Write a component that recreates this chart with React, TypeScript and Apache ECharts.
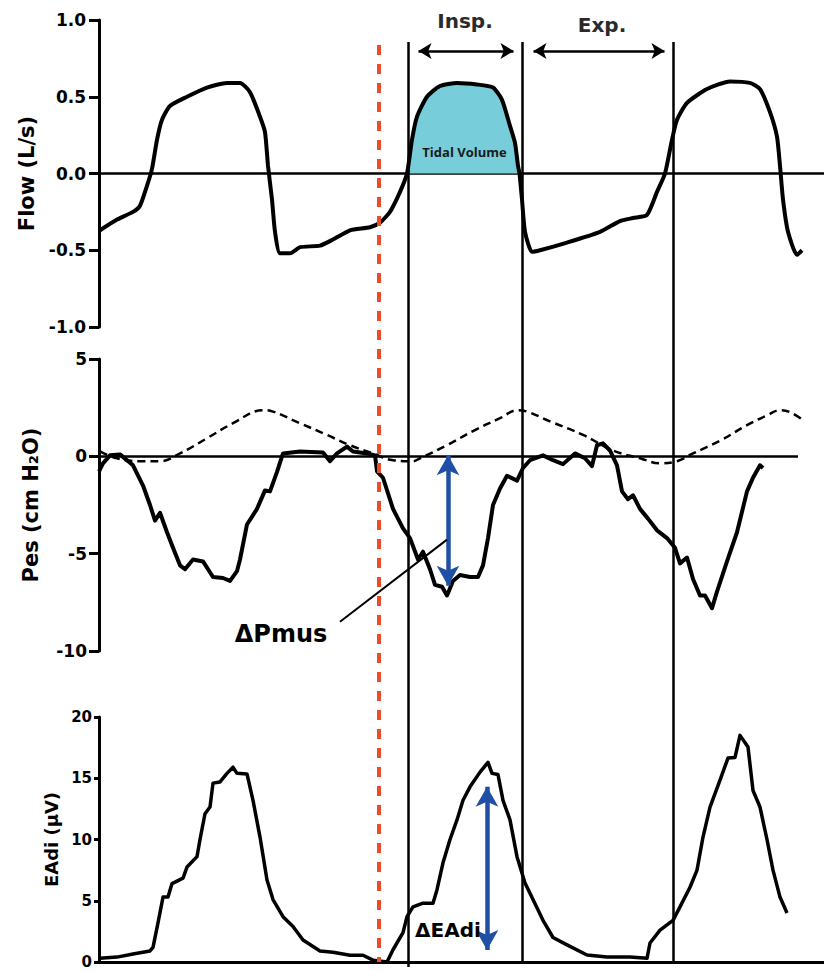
import React, { useEffect, useRef } from "react";
import * as echarts from "echarts";

// time in seconds, value
const flowData: [number, number][] = [
  [0.01, -0.37], [0.18, -0.3], [0.34, -0.25], [0.41, -0.21], [0.48, -0.08], [0.53, 0.03], [0.58, 0.22],
  [0.63, 0.35], [0.71, 0.44], [0.88, 0.5], [1.08, 0.56], [1.28, 0.59], [1.41, 0.59], [1.51, 0.53],
  [1.61, 0.37], [1.66, 0.27], [1.69, 0.05], [1.73, -0.17], [1.76, -0.38], [1.81, -0.52], [1.91, -0.52],
  [2.01, -0.48], [2.21, -0.47], [2.34, -0.43], [2.51, -0.37], [2.71, -0.35], [2.81, -0.32], [2.91, -0.25],
  [3.01, -0.12], [3.08, 0.0], [3.13, 0.22], [3.18, 0.37], [3.28, 0.5], [3.41, 0.57], [3.58, 0.59],
  [3.78, 0.58], [3.94, 0.56], [4.03, 0.48], [4.11, 0.31], [4.16, 0.2], [4.19, 0.05], [4.205, 0.0],
  [4.23, -0.17], [4.26, -0.38], [4.33, -0.51], [4.41, -0.5], [4.68, -0.45], [5.01, -0.38], [5.21, -0.31],
  [5.34, -0.29], [5.48, -0.27], [5.58, -0.12], [5.66, 0.0], [5.73, 0.22], [5.78, 0.35], [5.88, 0.46],
  [6.08, 0.55], [6.31, 0.6], [6.51, 0.59], [6.61, 0.55], [6.71, 0.4], [6.78, 0.24], [6.81, 0.05],
  [6.84, -0.17], [6.89, -0.38], [6.98, -0.53], [7.03, -0.5],
];

const pesData: [number, number][] = [
  [0.0, -0.77], [0.04, -0.36], [0.11, 0.05], [0.21, 0.1], [0.34, -0.46], [0.44, -1.5], [0.51, -2.5],
  [0.56, -3.3], [0.61, -2.9], [0.68, -3.9], [0.74, -4.7], [0.81, -5.6], [0.86, -5.8], [0.94, -5.3],
  [1.04, -5.4], [1.14, -6.2], [1.24, -6.25], [1.31, -6.4], [1.38, -5.9], [1.41, -5.3], [1.48, -3.5],
  [1.58, -2.7], [1.66, -1.75], [1.71, -1.8], [1.78, -0.8], [1.84, 0.15], [2.01, 0.25], [2.24, 0.2],
  [2.31, -0.25], [2.38, 0.15], [2.48, 0.5], [2.54, 0.25], [2.68, 0.15], [2.76, 0.05], [2.78, -0.77],
  [2.84, -1.1], [2.94, -2.7], [3.04, -3.7], [3.11, -4.2], [3.19, -5.3], [3.24, -4.9], [3.31, -5.8],
  [3.36, -6.6], [3.43, -6.7], [3.48, -7.15], [3.54, -6.4], [3.61, -6.1], [3.71, -6.2], [3.79, -6.2],
  [3.84, -5.6], [3.89, -4.2], [3.94, -2.5], [4.01, -1.65], [4.08, -1.0], [4.18, -1.25], [4.24, -0.6],
  [4.31, -0.2], [4.44, 0.05], [4.54, -0.2], [4.64, -0.4], [4.76, 0.15], [4.86, -0.1], [4.93, -0.5],
  [4.98, 0.57], [5.04, 0.67], [5.11, 0.3], [5.18, -0.46], [5.23, -1.8], [5.29, -2.2], [5.34, -2.0],
  [5.41, -2.7], [5.49, -3.2], [5.58, -3.8], [5.68, -4.2], [5.76, -4.7], [5.81, -5.5], [5.88, -5.2],
  [5.94, -6.3], [6.01, -7.15], [6.06, -7.15], [6.13, -7.8], [6.18, -6.95], [6.28, -5.4], [6.38, -3.9],
  [6.48, -1.8], [6.54, -1.1], [6.61, -0.46], [6.64, -0.6],
];

const pesRelaxData: [number, number][] = [
  [0.01, 0.25], [0.18, -0.1], [0.41, -0.25], [0.61, -0.25], [0.81, 0.15], [1.08, 0.93], [1.34, 1.7],
  [1.64, 2.37], [1.74, 2.3], [2.01, 1.7], [2.28, 1.1], [2.51, 0.57], [2.74, 0.15], [2.94, -0.2],
  [3.14, -0.25], [3.21, -0.1], [3.48, 0.57], [3.74, 1.3], [4.01, 1.96], [4.19, 2.37], [4.28, 2.3],
  [4.51, 1.8], [4.84, 1.1], [5.14, 0.3], [5.41, -0.1], [5.61, -0.36], [5.78, -0.25], [5.94, 0.15],
  [6.21, 0.8], [6.48, 1.6], [6.68, 2.1], [6.81, 2.37], [6.91, 2.27], [7.04, 1.86],
];

const eadiData: [number, number][] = [
  [0.01, 0.3], [0.18, 0.4], [0.34, 0.65], [0.51, 0.9], [0.54, 1.2], [0.59, 3.2], [0.64, 5.3], [0.69, 5.3],
  [0.73, 6.4], [0.84, 6.85], [0.88, 7.75], [0.98, 8.6], [1.01, 10], [1.06, 12.1], [1.11, 12.65],
  [1.14, 14.6], [1.21, 14.7], [1.28, 15.4], [1.34, 15.9], [1.38, 15.4], [1.48, 15.35], [1.54, 13.2],
  [1.61, 10.2], [1.68, 6.7], [1.74, 5.1], [1.84, 3.7], [1.94, 2.9], [2.04, 1.8], [2.21, 0.9], [2.34, 0.8],
  [2.51, 0.55], [2.64, 0.55], [2.74, 0.15], [2.88, 0.0], [2.94, 1.0], [3.04, 2.4], [3.08, 3.7],
  [3.14, 4.5], [3.24, 4.8], [3.34, 4.8], [3.38, 5.9], [3.44, 8.1], [3.51, 10], [3.58, 11.6], [3.64, 13.2],
  [3.71, 14.3], [3.81, 15.5], [3.89, 16.3], [3.93, 15.4], [3.99, 15.3], [4.04, 13.2], [4.11, 11.6],
  [4.18, 8.6], [4.26, 6.45], [4.34, 5.1], [4.44, 3.4], [4.54, 2.0], [4.68, 1.4], [4.88, 0.57],
  [5.08, 0.4], [5.31, 0.4], [5.48, 0.3], [5.51, 1.55], [5.61, 2.6], [5.74, 3.4], [5.81, 4.5],
  [5.91, 6.1], [5.98, 7.5], [6.04, 10.2], [6.11, 12.65], [6.21, 14.85], [6.29, 16.65], [6.36, 16.7],
  [6.41, 18.5], [6.49, 17.55], [6.54, 14.0], [6.61, 12.65], [6.68, 10.0], [6.74, 7.5], [6.81, 5.3],
  [6.88, 4.0],
];

// event times (s)
const TRIGGER_T = 2.8;
const INSP_START = 3.09;
const INSP_END = 4.23;
const EXP_END = 5.74;
const DELTA_PMUS_T = 3.49;
const DELTA_PMUS_TOP = 0.05;
const DELTA_PMUS_BOTTOM = -6.65;
const DELTA_EADI_T = 3.88;
const DELTA_EADI_TOP = 14.3;
const DELTA_EADI_BOTTOM = 0.98;

const flowTickFormat = (v: number) => v.toFixed(1);

const FONT = "DejaVu Sans";
const BLUE = "#1f50a6";
const RED = "#ee4b2b";

const textPoint = (coord: number[], text: string, fontSize: number, extra: any = {}) => ({
  coord,
  value: 0,
  symbol: "circle",
  symbolSize: 1,
  itemStyle: { color: "rgba(0,0,0,0)" },
  label: {
    show: true,
    position: "inside",
    formatter: text,
    fontFamily: FONT,
    fontWeight: "bold",
    fontSize,
    color: "#000",
    ...extra,
  },
});

const yAxisBase = (
  gridIndex: number,
  min: number,
  max: number,
  interval: number,
  name: string,
  nameGap: number,
  nameSize: number,
  labelSize: number,
  margin: number,
  tickLen: number,
  formatter?: (v: number) => string
) => ({
  type: "value",
  gridIndex,
  min,
  max,
  interval,
  name,
  nameLocation: "middle",
  nameGap,
  nameRotate: 90,
  nameTextStyle: { fontFamily: FONT, fontWeight: "bold", fontSize: nameSize, color: "#000" },
  axisLine: { show: true, onZero: false, lineStyle: { color: "#000", width: 3 } },
  axisTick: { show: true, length: tickLen, lineStyle: { color: "#000", width: 3 } },
  axisLabel: {
    fontFamily: FONT,
    fontWeight: "bold",
    fontSize: labelSize,
    color: "#000",
    margin,
    ...(formatter ? { formatter } : {}),
  },
  splitLine: { show: false },
});

const xAxisBase = (gridIndex: number, extra: any = {}) => ({
  type: "value",
  gridIndex,
  min: 0,
  max: 7.25,
  axisTick: { show: false },
  axisLabel: { show: false },
  splitLine: { show: false },
  ...extra,
});

export default function App() {
  const ref = useRef<HTMLDivElement>(null);

  useEffect(() => {
    if (!ref.current) return;
    const chart = echarts.init(ref.current, null, { renderer: "svg" });

    const tidalArea = flowData.filter(([t, v]) => t >= INSP_START - 0.05 && t <= INSP_END && v >= 0);

    const option: any = {
      animation: false,
      backgroundColor: "#fff",
      grid: [
        { left: 99, top: 20, width: 725, height: 307 },
        { left: 99, top: 359, width: 725, height: 292 },
        { left: 99, top: 717, width: 725, height: 245 },
        { left: 99, top: 0, width: 725, height: 971 },
      ],
      xAxis: [
        xAxisBase(0, { axisLine: { show: true, onZero: true, lineStyle: { color: "#000", width: 2.5 } } }),
        xAxisBase(1, { show: false }),
        xAxisBase(2, { axisLine: { show: true, onZero: false, lineStyle: { color: "#000", width: 3 } } }),
        xAxisBase(3, { show: false }),
      ],
      yAxis: [
        yAxisBase(0, -1, 1, 0.5, "Flow (L/s)", 61, 21, 17, 13, 10, flowTickFormat),
        yAxisBase(1, -10, 5, 5, "Pes (cm H₂O)", 58, 21, 17, 12, 10),
        yAxisBase(2, 0, 20, 5, "EAdi (μV)", 37, 18, 15, 7, 5),
        { type: "value", gridIndex: 3, min: 0, max: 971, inverse: true, show: false },
      ],
      series: [
        {
          type: "line",
          name: "Tidal volume",
          xAxisIndex: 0,
          yAxisIndex: 0,
          data: tidalArea,
          symbol: "none",
          smooth: 0.2,
          lineStyle: { width: 0 },
          areaStyle: { color: "#78cdda", opacity: 1 },
          z: 1,
          silent: true,
          markPoint: {
            silent: true,
            data: [textPoint([3.655, 0.137], "Tidal Volume", 13, { fontFamily: "Open Sans", color: "#1b1b1b" })],
          },
        },
        {
          type: "line",
          name: "Flow",
          xAxisIndex: 0,
          yAxisIndex: 0,
          data: flowData,
          symbol: "none",
          smooth: 0.2,
          lineStyle: { color: "#000", width: 4 },
          z: 3,
        },
        {
          type: "line",
          name: "Pes relaxed",
          xAxisIndex: 1,
          yAxisIndex: 1,
          data: pesRelaxData,
          symbol: "none",
          smooth: 0.4,
          lineStyle: { color: "#000", width: 2.5, type: [8, 5] },
          z: 2,
        },
        {
          type: "line",
          name: "Pes",
          xAxisIndex: 1,
          yAxisIndex: 1,
          data: pesData,
          symbol: "none",
          lineStyle: { color: "#000", width: 4, join: "round" },
          z: 3,
          markLine: {
            silent: true,
            symbol: ["none", "none"],
            label: { show: false },
            data: [
              [
                { coord: [0, 0], lineStyle: { color: "#000", width: 2.5, type: "solid" } },
                { coord: [6.99, 0] },
              ],
              [
                {
                  coord: [DELTA_PMUS_T, DELTA_PMUS_TOP],
                  symbol: "arrow",
                  symbolSize: [17, 20],
                  lineStyle: { color: BLUE, width: 4.5, type: "solid" },
                  itemStyle: { color: BLUE },
                },
                { coord: [DELTA_PMUS_T, DELTA_PMUS_BOTTOM], symbol: "arrow", symbolSize: [17, 20], itemStyle: { color: BLUE } },
              ],
              [
                { coord: [2.41, -8.5], lineStyle: { color: "#000", width: 2, type: "solid" } },
                { coord: [3.48, -4.28] },
              ],
            ],
          },
          markPoint: {
            silent: true,
            data: [textPoint([1.82, -9.12], "ΔPmus", 24)],
          },
        },
        {
          type: "line",
          name: "EAdi",
          xAxisIndex: 2,
          yAxisIndex: 2,
          data: eadiData,
          symbol: "none",
          lineStyle: { color: "#000", width: 3.5, join: "round" },
          z: 3,
          markLine: {
            silent: true,
            symbol: ["none", "none"],
            label: { show: false },
            data: [
              [
                {
                  coord: [DELTA_EADI_T, DELTA_EADI_TOP],
                  symbol: "arrow",
                  symbolSize: [17, 20],
                  lineStyle: { color: BLUE, width: 4.5, type: "solid" },
                  itemStyle: { color: BLUE },
                },
                { coord: [DELTA_EADI_T, DELTA_EADI_BOTTOM], symbol: "arrow", symbolSize: [17, 20], itemStyle: { color: BLUE } },
              ],
            ],
          },
          markPoint: {
            silent: true,
            data: [textPoint([3.49, 2.6], "ΔEAdi", 20)],
          },
        },
        {
          type: "line",
          name: "events",
          xAxisIndex: 3,
          yAxisIndex: 3,
          data: [],
          symbol: "none",
          z: 4,
          markLine: {
            silent: true,
            symbol: ["none", "none"],
            label: { show: false },
            data: [
              [
                { coord: [TRIGGER_T, 45], lineStyle: { color: RED, width: 4, type: [10, 9] } },
                { coord: [TRIGGER_T, 962] },
              ],
              [
                { coord: [INSP_START, 42], lineStyle: { color: "#000", width: 2.5, type: "solid" } },
                { coord: [INSP_START, 967] },
              ],
              [
                { coord: [INSP_END, 42], lineStyle: { color: "#000", width: 2.5, type: "solid" } },
                { coord: [INSP_END, 962] },
              ],
              [
                { coord: [EXP_END, 42], lineStyle: { color: "#000", width: 2.5, type: "solid" } },
                { coord: [EXP_END, 962] },
              ],
              [
                {
                  coord: [INSP_START + 0.105, 51],
                  symbol: "arrow",
                  symbolSize: [12, 13],
                  lineStyle: { color: "#000", width: 2.5, type: "solid" },
                  itemStyle: { color: "#000" },
                },
                { coord: [INSP_END - 0.085, 51], symbol: "arrow", symbolSize: [12, 13], itemStyle: { color: "#000" } },
              ],
              [
                {
                  coord: [INSP_END + 0.115, 51],
                  symbol: "arrow",
                  symbolSize: [12, 13],
                  lineStyle: { color: "#000", width: 2.5, type: "solid" },
                  itemStyle: { color: "#000" },
                },
                { coord: [EXP_END - 0.085, 51], symbol: "arrow", symbolSize: [12, 13], itemStyle: { color: "#000" } },
              ],
            ],
          },
          markPoint: {
            silent: true,
            data: [
              textPoint([3.66, 21], "Insp.", 20, { color: "#2a2a2a" }),
              textPoint([5.03, 25], "Exp.", 20, { color: "#2a2a2a" }),
            ],
          },
        },
      ],
    };

    chart.setOption(option);
    return () => chart.dispose();
  }, []);

  return (
    <div
      ref={ref}
      style={{ position: "absolute", left: 0, top: 0, width: 824, height: 971, background: "#fff" }}
    />
  );
}
